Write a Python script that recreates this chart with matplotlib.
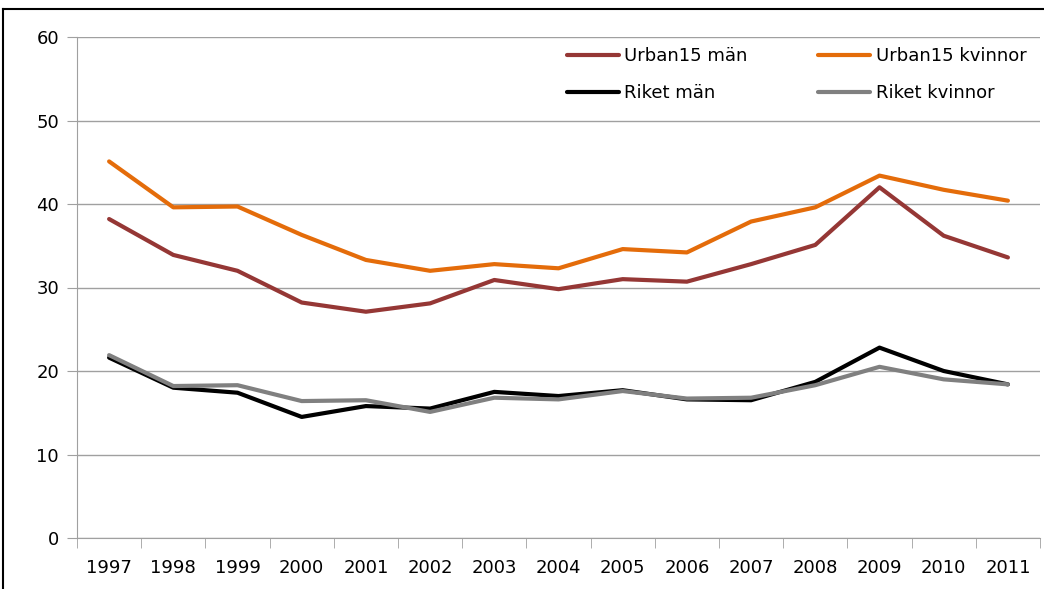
import matplotlib
matplotlib.use("Agg")
import matplotlib.pyplot as plt
from matplotlib.lines import Line2D

years = [str(y) for y in range(1997, 2012)]
urban_man = [38.2, 33.9, 32.0, 28.2, 27.1, 28.1, 30.9, 29.8, 31.0, 30.7, 32.8, 35.1, 42.0, 36.2, 33.6]
urban_kvinnor = [45.1, 39.6, 39.7, 36.3, 33.3, 32.0, 32.8, 32.3, 34.6, 34.2, 37.9, 39.6, 43.4, 41.7, 40.4]
riket_man = [21.6, 18.0, 17.4, 14.5, 15.8, 15.5, 17.5, 17.0, 17.7, 16.6, 16.5, 18.7, 22.8, 20.0, 18.4]
riket_kvinnor = [21.9, 18.2, 18.3, 16.4, 16.5, 15.1, 16.8, 16.6, 17.6, 16.7, 16.8, 18.3, 20.5, 19.0, 18.4]

plt.rcParams['font.family'] = ['DejaVu Sans']

fig = plt.figure(figsize=(10.44, 5.89), dpi=100)
ax = fig.add_axes([77/1044, 51/589, 963/1044, 501/589])

x = range(len(years))
l1, = ax.plot(x, urban_man, color='#953735', lw=3, solid_capstyle='round', label='Urban15 män')
l2, = ax.plot(x, urban_kvinnor, color='#E46C0A', lw=3, solid_capstyle='round', label='Urban15 kvinnor')
l3, = ax.plot(x, riket_man, color='#000000', lw=3, solid_capstyle='round', label='Riket män')
l4, = ax.plot(x, riket_kvinnor, color='#808080', lw=3, solid_capstyle='round', label='Riket kvinnor')

ax.set_xlim(-0.5, len(years) - 0.5)
ax.set_ylim(0, 60)
ax.set_yticks(range(0, 61, 10))
ax.set_xticks(list(x))
ax.set_xticklabels(years)
ax.set_xticks([i - 0.5 for i in range(len(years) + 1)], minor=True)
ax.tick_params(axis='x', which='major', length=0, pad=15, labelsize=13)
ax.tick_params(axis='x', which='minor', length=7, color='#A0A0A0', direction='out')
ax.tick_params(axis='y', length=7, color='#A0A0A0', labelsize=13, pad=6)
ax.yaxis.grid(True, color='#A0A0A0', lw=1)
ax.set_axisbelow(True)
for s in ['top', 'right']:
    ax.spines[s].set_visible(False)
for s in ['left', 'bottom']:
    ax.spines[s].set_color('#A0A0A0')

ax.legend(handles=[l1, l3, l2, l4], ncol=2, loc='upper right', frameon=False,
          fontsize=13, handlelength=2.9, handletextpad=0.3, columnspacing=3.9,
          labelspacing=1.05, bbox_to_anchor=(1.003, 1.012))

# border of the surrounding frame
fig.add_artist(Line2D([3/1044, 3/1044], [0, 1 - 9/589], transform=fig.transFigure, color='black', lw=1.5))
fig.add_artist(Line2D([3/1044, 1], [1 - 9/589, 1 - 9/589], transform=fig.transFigure, color='black', lw=1.5))

fig.savefig('out.png', dpi=100)
